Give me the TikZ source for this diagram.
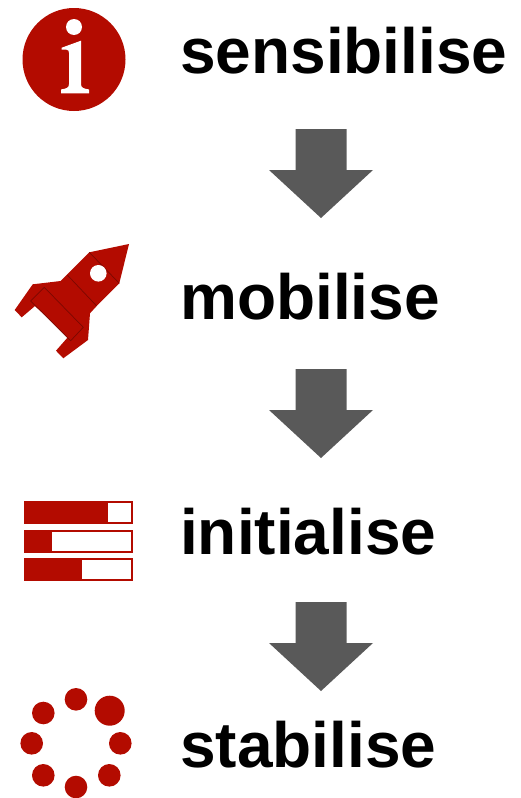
\documentclass[tikz,border=0pt]{standalone}
\usepackage{fontspec}
\setmainfont{Liberation Sans}
\definecolor{iconred}{HTML}{B30B00}
\definecolor{icondark}{HTML}{7A0800}
\definecolor{arrowgray}{HTML}{595959}
\tikzset{
    wordlabel/.style={anchor=base west, inner sep=0pt, font=\fontsize{64}{70}\bfseries\selectfont},
    downarrow/.pic={
        \fill[arrowgray] (-25.5,-44.5) -- (25.5,-44.5) -- (25.5,-3.5) -- (52,-3.5) -- (0,44.5)
            -- (-52,-3.5) -- (-25.5,-3.5) -- cycle;
    }
}

\begin{document}
\begin{tikzpicture}[x=1pt, y=-1pt]
    \useasboundingbox (0,0) rectangle (521,798);

    % Palabras
    \node[wordlabel] (sensibilise) at (180,73) {sensibilise};
    \node[wordlabel] (mobilise) at (180,319) {mobilise};
    \node[wordlabel] (initialise) at (180,554) {initialise};
    \node[wordlabel] (stabilise) at (180,767) {stabilise};

    % Flechas
    \pic (arrowone) at (321,173.5) {downarrow};
    \pic (arrowtwo) at (321,413.5) {downarrow};
    \pic (arrowthree) at (321,646.5) {downarrow};

    % Icono de información
    \fill[iconred] (74,59.5) circle (51.5);
    \fill[white] (74,27) circle (8);
    \fill[white] (81,40.7) -- (61.7,47.7) -- (61.7,49.5) -- (66,49.5) .. controls (68.5,49.5) and (69,51) .. (69,53)
        -- (69,84) .. controls (69,87.5) and (67,88.5) .. (61,89.5) -- (61,93.3) -- (89,93.3) -- (89,89.5)
        .. controls (83,88.5) and (81,87.5) .. (81,84) -- cycle;

    % Cohete
    \fill[iconred] (14.7,310) -- (32.7,284.3) -- (60.7,281) -- (89.3,252.3) -- (129,244) -- (119.3,283.3)
        -- (96.7,306) -- (90,313.3) -- (88,340) -- (63.3,358.3) -- (56,350.7) -- (68.3,336.7) -- (35,306) -- (21.7,317.3) -- cycle;
    \draw[icondark, line width=0.7pt] (89.3,252.3) -- (119.3,283.3);
    \draw[icondark, line width=0.7pt] (67.3,275) -- (96.7,306);
    \filldraw[fill=iconred, draw=icondark, line width=0.7pt] (44.3,287.3) -- (30.7,301) -- (70.7,340.7) -- (83.3,327.3) -- cycle;
    \fill[white] (98.3,273.3) circle (8.3);

    % Barras
    \foreach \y/\w in {501/84, 529.5/28, 558/58} {
        \fill[white] (25,\y+1) rectangle (132,\y+22);
        \draw[iconred, line width=2pt] (25.3,\y+1) rectangle (132,\y+22);
        \fill[iconred] (24.3,\y) rectangle ++(\w,23);
    }

    % Puntos
    \foreach \x/\y/\r in {76/699.3/11.3, 109.7/710.7/15, 120.3/743.3/11.3, 109.3/775.3/11.3,
        76/787/11.3, 43.3/775.3/11.3, 31.7/743.3/11.3, 43.3/713/11.3} {
        \fill[iconred] (\x,\y) circle (\r);
    }
\end{tikzpicture}
\end{document}
